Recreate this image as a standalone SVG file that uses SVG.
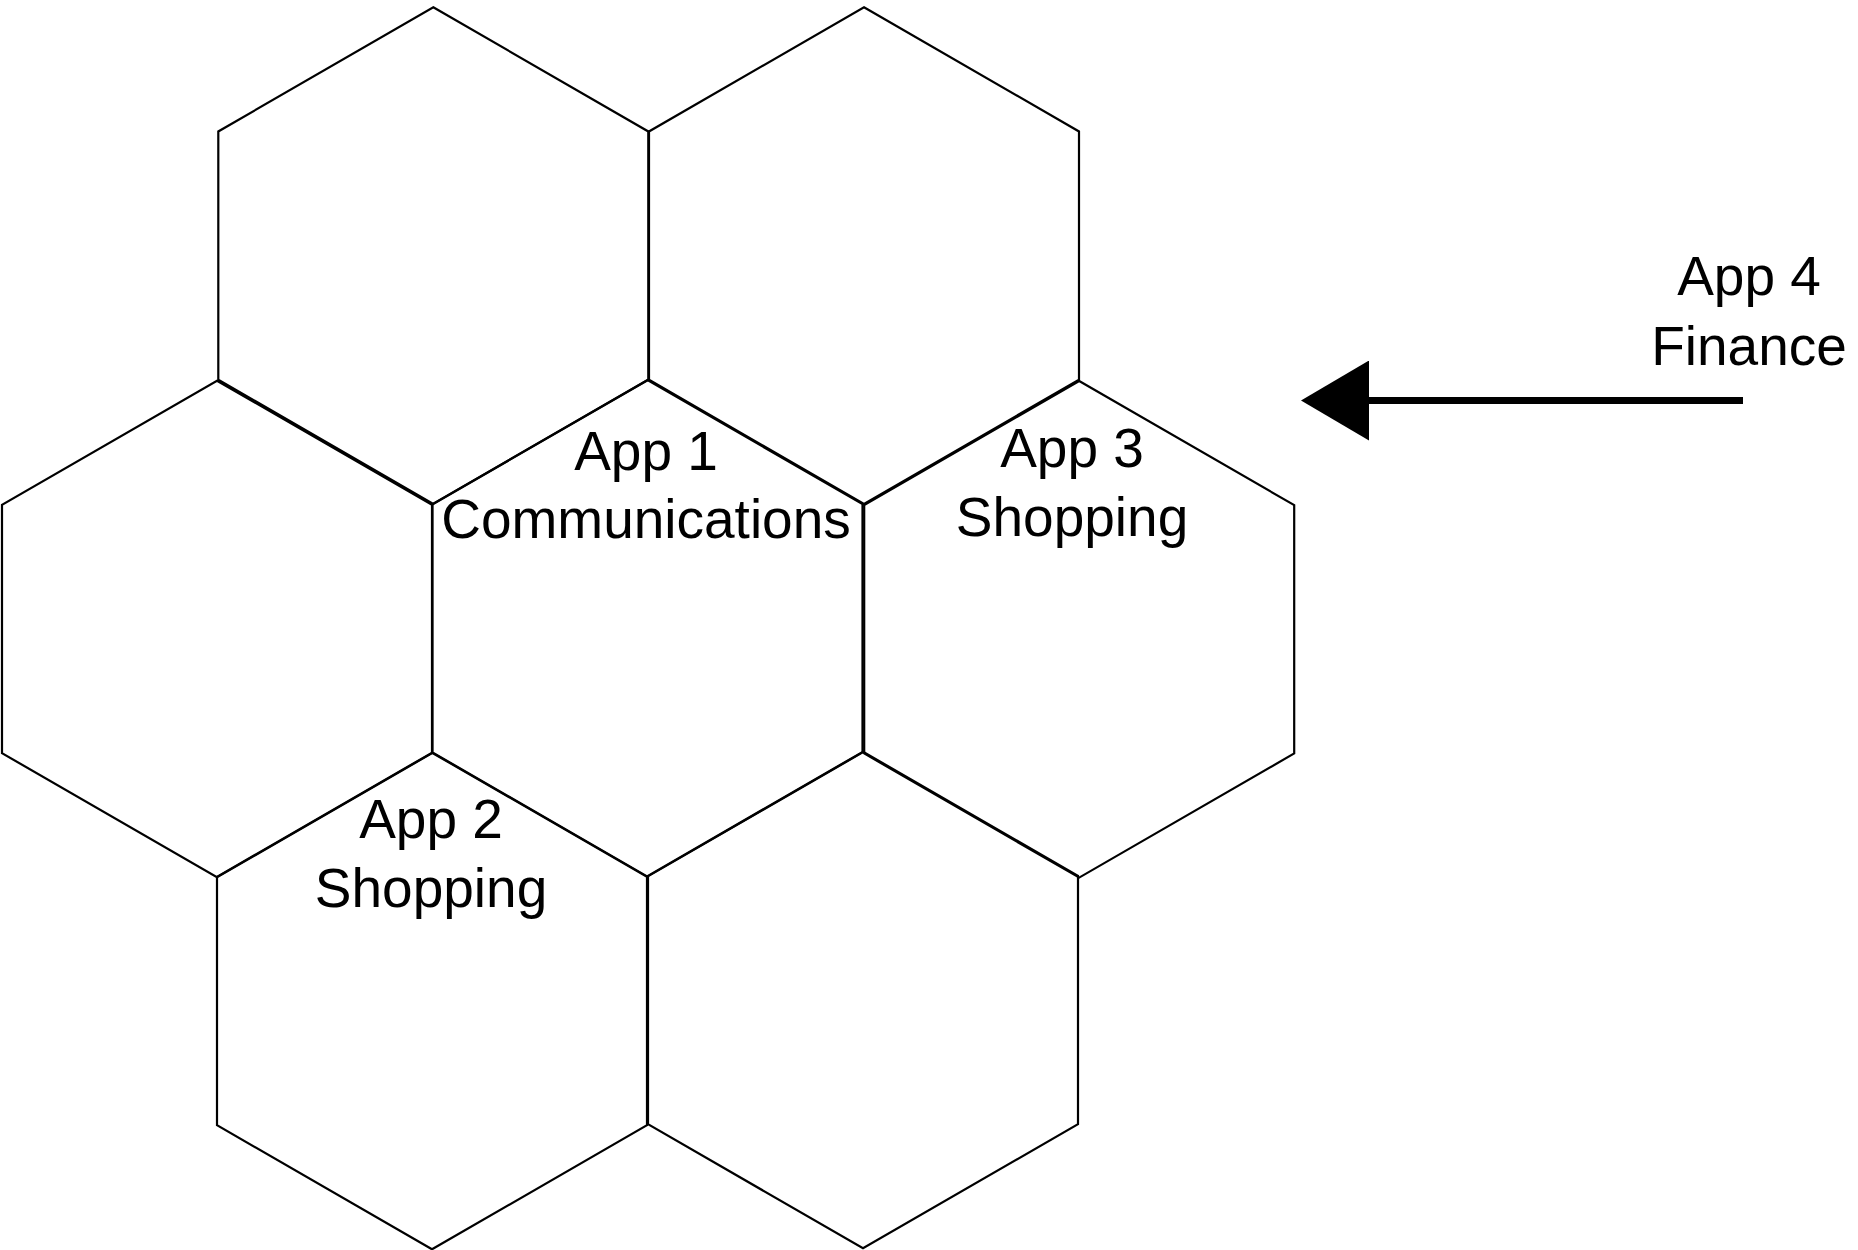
<svg xmlns="http://www.w3.org/2000/svg" width="1858" height="1250" viewBox="0 0 1858 1250">
  <style>
    .hex { fill: none; stroke: #000; stroke-width: 2.2; stroke-linejoin: miter; }
    .lbl { font-family: "Liberation Sans", Arial, sans-serif; font-size: 55px; fill: #000; text-anchor: middle; }
    .conn { stroke: #000; stroke-width: 7; fill: none; }
  </style>
  <defs>
    <!-- regular hexagon, side 248.3, centred on the origin -->
    <polygon id="hexShape" points="0,-248.3 215,-124.15 215,124.15 0,248.3 -215,124.15 -215,-124.15"/>
    <marker id="arrowHead" markerUnits="userSpaceOnUse" viewBox="0 0 68 80" markerWidth="68" markerHeight="80" refX="0" refY="40" orient="auto">
      <path d="M0,0 L68,40 L0,80 Z" fill="#000"/>
    </marker>
  </defs>

  <!-- top row -->
  <g id="hex-top-left">
    <use href="#hexShape" class="hex" x="433.3" y="255.6"/>
  </g>
  <g id="hex-top-right">
    <use href="#hexShape" class="hex" x="864" y="255.6"/>
  </g>

  <!-- middle row -->
  <g id="hex-mid-left">
    <use href="#hexShape" class="hex" x="217" y="629"/>
  </g>
  <g id="hex-app1">
    <use href="#hexShape" class="hex" x="647.5" y="628.3"/>
    <text class="lbl" x="646" y="470">App 1</text>
    <text class="lbl" x="646" y="538">Communications</text>
  </g>
  <g id="hex-app3">
    <use href="#hexShape" class="hex" x="1079.2" y="629.3"/>
    <text class="lbl" x="1072" y="467">App 3</text>
    <text class="lbl" x="1072" y="536">Shopping</text>
  </g>

  <!-- bottom row -->
  <g id="hex-app2">
    <use href="#hexShape" class="hex" x="432" y="1001"/>
    <text class="lbl" x="431" y="838">App 2</text>
    <text class="lbl" x="431" y="907">Shopping</text>
  </g>
  <g id="hex-bottom-right">
    <use href="#hexShape" class="hex" x="863" y="1000"/>
  </g>

  <!-- incoming app label -->
  <g id="app4">
    <text class="lbl" x="1749" y="295">App 4</text>
    <text class="lbl" x="1749" y="365">Finance</text>
  </g>

  <g id="connectors">
    <line class="conn" x1="1743" y1="400.5" x2="1369" y2="400.5" marker-end="url(#arrowHead)"/>
  </g>
</svg>
